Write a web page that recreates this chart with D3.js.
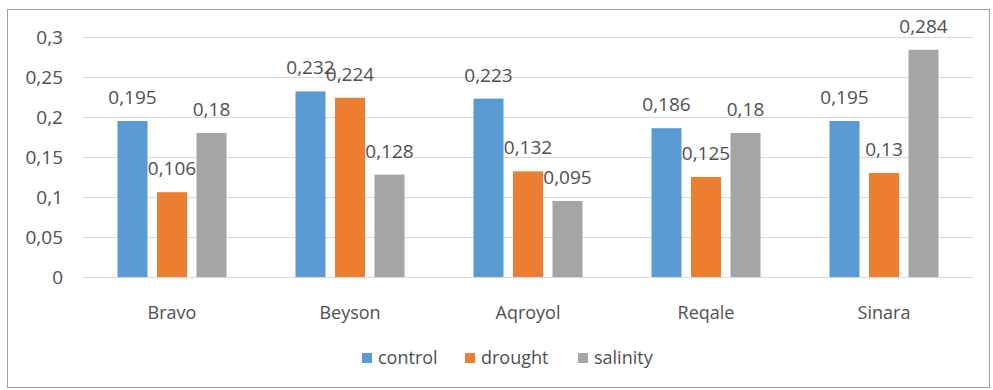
<!DOCTYPE html>
<html><head><meta charset="utf-8">
<script src="https://cdn.jsdelivr.net/npm/d3@7"></script>
<style>body{margin:0;background:#fff}svg{display:block}text{font-family:"Open Sans",sans-serif;fill:#505050}</style>
</head><body>
<script>
const categories = ["Bravo","Beyson","Aqroyol","Reqale","Sinara"];
const seriesNames = ["control","drought","salinity"];
const control = [0.195,0.232,0.223,0.186,0.195];
const drought = [0.106,0.224,0.132,0.125,0.13];
const salinity = [0.18,0.128,0.095,0.18,0.284];
const yTicks = [0,0.05,0.1,0.15,0.2,0.25,0.3];
const colors = ["#5B9BD5","#ED7D31","#A5A5A5"];
const seriesValues = [control, drought, salinity];

const W=993,H=390;
const svg=d3.select("body").append("svg").attr("width",W).attr("height",H);
svg.append("rect").attr("x",7.5).attr("y",9.5).attr("width",982).attr("height",378).attr("fill","#fff").attr("stroke","#a0a0a0");

const fmt=v=>String(v).replace(".",",");
const y=d3.scaleLinear().domain([0,0.3]).range([277,37]);
const x0=d3.scaleBand().domain(categories).range([83,973]).padding(0);
const x1=d3.scaleBand().domain(seriesNames).range([0,x0.bandwidth()]).paddingInner(0.24).paddingOuter(0.873);

svg.append("g").selectAll("line").data(yTicks).join("line")
 .attr("x1",83).attr("x2",973).attr("y1",d=>Math.round(y(d))+0.5).attr("y2",d=>Math.round(y(d))+0.5)
 .attr("stroke","#d9d9d9").attr("stroke-width",1);

svg.append("g").selectAll("text").data(yTicks).join("text")
 .attr("x",63).attr("y",d=>y(d)).attr("dy","0.35em").attr("text-anchor","end")
 .style("font-size","19px").text(d=>fmt(d));

const groups=svg.append("g").selectAll("g").data(categories).join("g")
 .attr("transform",d=>`translate(${x0(d)},0)`);
groups.selectAll("rect").data((c,i)=>seriesNames.map((s,j)=>({s,v:seriesValues[j][i],j}))).join("rect")
 .attr("x",d=>x1(d.s)).attr("width",x1.bandwidth())
 .attr("y",d=>y(d.v)).attr("height",d=>y(0)-y(d.v)).attr("fill",d=>colors[d.j]);
groups.selectAll("text.lbl").data((c,i)=>seriesNames.map((s,j)=>({s,v:seriesValues[j][i],j}))).join("text")
 .attr("class","lbl").attr("x",d=>x1(d.s)+x1.bandwidth()/2).attr("y",d=>y(d.v)-17)
 .attr("text-anchor","middle").style("font-size","19px").text(d=>fmt(d.v));

svg.append("g").selectAll("text").data(categories).join("text")
 .attr("x",d=>x0(d)+x0.bandwidth()/2).attr("y",313).attr("dy","0.35em")
 .attr("text-anchor","middle").style("font-size","18px").text(d=>d);

const legX=[362,465,578];
const leg=svg.append("g").selectAll("g").data(seriesNames).join("g")
 .attr("transform",(d,i)=>`translate(${legX[i]},358)`);
leg.append("rect").attr("x",0).attr("y",-5).attr("width",10).attr("height",10).attr("fill",(d,i)=>colors[i]);
leg.append("text").attr("x",16).attr("y",0).attr("dy","0.35em").style("font-size","18px").text(d=>d);
</script>
</body></html>
